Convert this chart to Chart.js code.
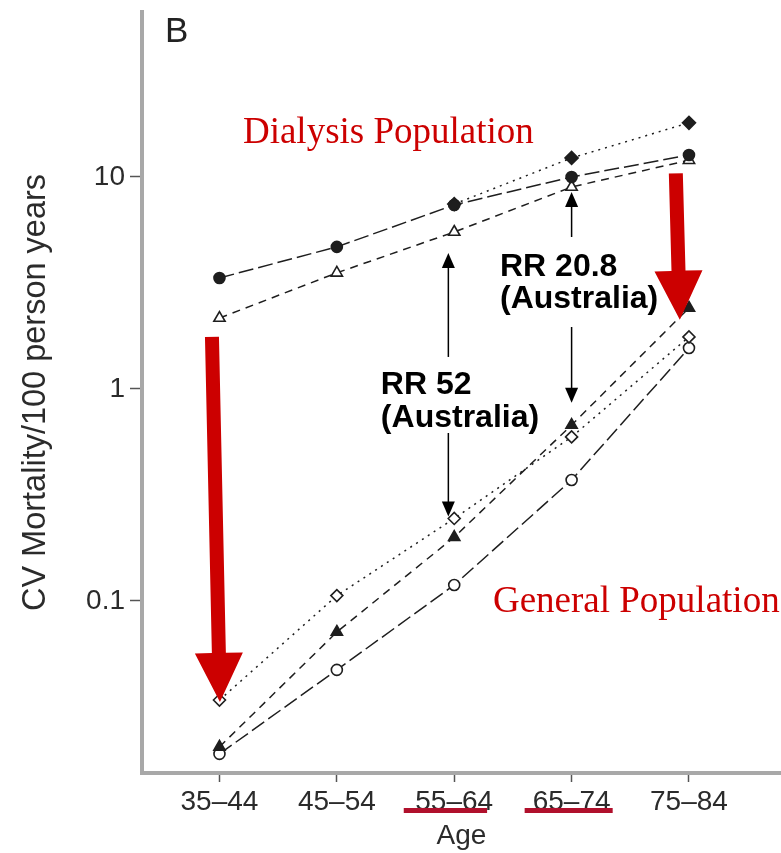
<!DOCTYPE html>
<html>
<head>
<meta charset="utf-8">
<script src="https://cdn.jsdelivr.net/npm/chart.js@4"></script>
<style>
  body { margin: 0; background: #fff; }
  canvas { display: block; }
</style>
</head>
<body>
<canvas id="cv" width="781" height="853"></canvas>
<script>
// age bands and the y ticks that are labelled
var categories = ['35\u201344', '45\u201354', '55\u201364', '65\u201374', '75\u201384'];
var yTicks = [0.1, 1, 10];

// dialysis population (per 100 person years)
var dialysisCircle = [3.34, 4.68, 7.38, 10.0, 12.7];
var dialysisTriangle = [2.16, 3.53, 5.5, 8.97, 12.0];
var dialysisDiamond = [null, null, 7.45, 12.3, 18.0];

// general population
var generalDiamond = [0.0341, 0.106, 0.245, 0.594, 1.76];
var generalTriangle = [0.0205, 0.0714, 0.2, 0.676, 2.41];
var generalCircle = [0.019, 0.0473, 0.119, 0.372, 1.56];

var ink = '#1e1e1e';
var sans = "'Liberation Sans', Arial, sans-serif";

function pts(values) {
    return values.map(function (v, i) { return { x: i, y: v }; })
        .filter(function (p) { return p.y !== null; });
}

function series(values, style, filled, radius, dash) {
    return {
        data: pts(values),
        borderColor: ink,
        borderWidth: 1.5,
        borderDash: dash,
        tension: 0,
        pointStyle: style,
        pointRadius: radius,
        pointBorderWidth: 1.6,
        pointBorderColor: ink,
        pointBackgroundColor: filled ? ink : '#fff'
    };
}

// extra drawing: red notes, arrows, panel letter
var notes = {
    id: 'notes',
    afterDraw: function (chart) {
        var ctx = chart.ctx;
        var x = chart.scales.x, y = chart.scales.y;
        function px(p) { return [x.getPixelForValue(p[0]), y.getPixelForValue(p[1])]; }

        ctx.save();
        // black double arrows
        [[[1.95, 1.416], [1.95, 4.38]], [[1.95, 0.62], [1.95, 0.25]],
         [[3, 5.21], [3, 8.5]], [[3, 1.96], [3, 0.86]]].forEach(function (a) {
            var p0 = px(a[0]), p1 = px(a[1]);
            var dir = p1[1] > p0[1] ? 1 : -1;
            ctx.strokeStyle = '#000';
            ctx.lineWidth = 1.5;
            ctx.beginPath();
            ctx.moveTo(p0[0], p0[1]);
            ctx.lineTo(p1[0], p1[1] - dir * 12);
            ctx.stroke();
            ctx.fillStyle = '#000';
            ctx.beginPath();
            ctx.moveTo(p1[0], p1[1]);
            ctx.lineTo(p1[0] - 6.5, p1[1] - dir * 15);
            ctx.lineTo(p1[0] + 6.5, p1[1] - dir * 15);
            ctx.closePath();
            ctx.fill();
        });

        // thick red arrows
        [[[-0.064, 1.76], [0.004, 0.0334]], [[3.888, 10.4], [3.922, 2.12]]].forEach(function (a) {
            var p0 = px(a[0]), p1 = px(a[1]);
            var dx = p1[0] - p0[0], dy = p1[1] - p0[1];
            var len = Math.sqrt(dx * dx + dy * dy);
            var ux = dx / len, uy = dy / len, nx = -uy, ny = ux;
            var sw = 7, hw = 24, hl = 49;
            var bx = p1[0] - ux * hl, by = p1[1] - uy * hl;
            ctx.fillStyle = '#cc0000';
            ctx.beginPath();
            ctx.moveTo(p0[0] + nx * sw, p0[1] + ny * sw);
            ctx.lineTo(bx + nx * sw, by + ny * sw);
            ctx.lineTo(bx + nx * hw, by + ny * hw);
            ctx.lineTo(p1[0], p1[1]);
            ctx.lineTo(bx - nx * hw, by - ny * hw);
            ctx.lineTo(bx - nx * sw, by - ny * sw);
            ctx.lineTo(p0[0] - nx * sw, p0[1] - ny * sw);
            ctx.closePath();
            ctx.fill();
        });

        // underlines under two age bands
        ctx.fillStyle = '#b0102c';
        [[1.57, 2.28], [2.6, 3.35]].forEach(function (r) {
            var a = x.getPixelForValue(r[0]), b = x.getPixelForValue(r[1]);
            ctx.fillRect(a, x.top + 35, b - a, 5);
        });

        // text notes
        ctx.textAlign = 'left';
        ctx.textBaseline = 'alphabetic';
        [
            { t: 'B', at: [-0.464, 43.3], font: '35px ' + sans, color: '#222' },
            { t: 'Dialysis Population', at: [0.2, 14.5], font: "37px 'Liberation Serif', 'Times New Roman', serif", color: '#cc0000' },
            { t: 'General Population', at: [2.33, 0.0887], font: "37px 'Liberation Serif', 'Times New Roman', serif", color: '#cc0000' },
            { t: 'RR 20.8', at: [2.39, 3.41], font: 'bold 32px ' + sans, color: '#000' },
            { t: '(Australia)', at: [2.39, 2.41], font: 'bold 32px ' + sans, color: '#000' },
            { t: 'RR 52', at: [1.375, 0.947], font: 'bold 32px ' + sans, color: '#000' },
            { t: '(Australia)', at: [1.375, 0.662], font: 'bold 32px ' + sans, color: '#000' }
        ].forEach(function (n) {
            var p = px(n.at);
            ctx.font = n.font;
            ctx.fillStyle = n.color;
            ctx.fillText(n.t, p[0], p[1]);
        });
        ctx.restore();
    }
};

new Chart(document.getElementById('cv'), {
    type: 'line',
    data: {
        datasets: [
            series(dialysisCircle, 'circle', true, 5.5, [15, 5]),
            series(dialysisTriangle, 'triangle', false, 6.5, [8, 6]),
            series(dialysisDiamond, 'rectRot', true, 6.5, [2, 5]),
            series(generalDiamond, 'rectRot', false, 6, [2, 5]),
            series(generalTriangle, 'triangle', true, 6.5, [8, 6]),
            series(generalCircle, 'circle', false, 5.5, [15, 5])
        ]
    },
    options: {
        responsive: false,
        animation: false,
        layout: { autoPadding: false, padding: { top: 12, right: 0, left: 0, bottom: 0 } },
        plugins: {
            legend: { display: false },
            tooltip: { enabled: false }
        },
        scales: {
            x: {
                type: 'linear',
                min: -0.66,
                max: 4.784,
                afterBuildTicks: function (s) {
                    s.ticks = categories.map(function (c, i) { return { value: i }; });
                },
                afterFit: function (s) {
                    s.height = 80;
                    s.paddingLeft = 0;
                    s.paddingRight = 0;
                },
                ticks: {
                    callback: function (v) { return categories[v]; },
                    font: { family: sans, size: 28 },
                    color: '#2b2b2b',
                    padding: 3,
                    maxRotation: 0
                },
                grid: { drawOnChartArea: false, tickLength: 9, tickColor: '#555', tickWidth: 1.5 },
                border: { color: '#a8a8a8', width: 4 },
                title: {
                    display: true,
                    text: 'Age',
                    font: { family: sans, size: 28 },
                    color: '#2b2b2b',
                    padding: { top: 0, bottom: 0 }
                }
            },
            y: {
                type: 'logarithmic',
                min: 0.01544,
                max: 60,
                afterBuildTicks: function (s) {
                    s.ticks = yTicks.map(function (v) { return { value: v }; });
                },
                afterFit: function (s) {
                    s.width = 142;
                    s.paddingTop = 0;
                    s.paddingBottom = 0;
                },
                ticks: {
                    callback: function (v) { return String(v); },
                    font: { family: sans, size: 28 },
                    color: '#2b2b2b',
                    padding: 5
                },
                grid: { drawOnChartArea: false, tickLength: 12, tickColor: '#555', tickWidth: 1.5 },
                border: { color: '#a8a8a8', width: 4 },
                title: {
                    display: true,
                    text: 'CV Mortality/100 person years',
                    font: { family: sans, size: 32.5 },
                    color: '#2b2b2b',
                    padding: { top: 17, bottom: 0 }
                }
            }
        }
    },
    plugins: [notes]
});
</script>
</body>
</html>
